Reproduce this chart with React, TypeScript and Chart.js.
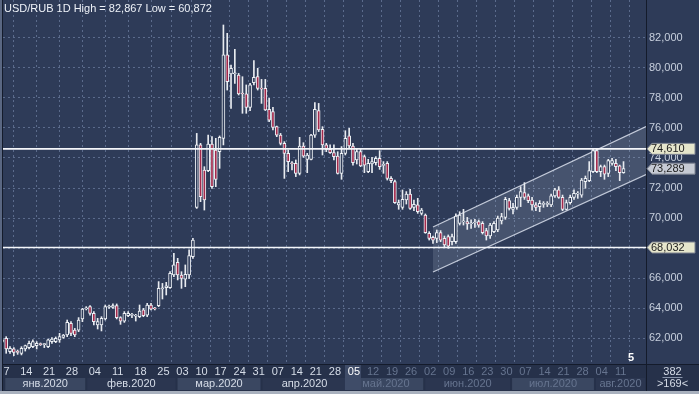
import React, { useEffect, useRef } from 'react';
import { Chart, registerables } from 'chart.js';

Chart.register(...registerables);

// ---- data (one value per candle slot) ----
const OPEN = [
  61.78, 61.98, 61.09, 61.27, 61.09, 60.98, 61.27, 61.36, 61.42, 61.49,
  61.60, 61.58, 61.42, 61.76, 61.76, 61.87, 62.04, 62.20, 62.98, 62.53,
  62.53, 63.27, 63.98, 64.09, 63.64, 62.87, 62.87, 63.27, 64.07, 64.04,
  64.16, 63.36, 63.13, 63.49, 63.53, 63.49, 63.42, 63.87, 63.53, 64.20,
  63.98, 64.16, 65.30, 65.36, 65.36, 66.20, 67.04, 66.20, 65.93, 66.20,
  67.42, 70.71, 74.87, 73.20, 73.16, 74.93, 74.53, 74.42, 75.31, 80.87,
  79.60, 79.64, 79.53, 78.31, 78.27, 77.38, 79.02, 79.42, 78.64, 78.64,
  77.24, 77.09, 76.09, 75.53, 74.98, 74.31, 73.66, 73.64, 72.98, 74.80,
  73.91, 73.91, 75.53, 77.16, 75.91, 74.87, 74.58, 74.36, 74.13, 72.98,
  74.31, 75.47, 74.80, 73.87, 74.42, 74.09, 73.09, 73.60, 73.69, 73.98,
  73.53, 73.64, 72.64, 72.42, 70.87, 70.71, 71.20, 71.60, 70.71, 70.87,
  70.31, 70.20, 68.98, 68.71, 68.64, 69.02, 68.64, 68.76, 68.42, 68.42,
  69.64, 69.76, 69.76, 69.64, 69.69, 69.76, 69.64, 69.16, 68.80, 69.09,
  69.20, 69.80, 70.04, 71.16, 70.58, 70.71, 71.38, 71.69, 71.47, 71.20,
  70.87, 70.76, 70.93, 70.93, 70.87, 71.47, 71.87, 71.38, 70.58, 71.02,
  71.38, 71.62, 71.53, 72.42, 72.49, 73.09, 74.49, 73.09, 73.42, 72.98,
  73.64, 73.64, 73.47, 73.02,
];
const HIGH = [
  61.95, 62.09, 61.42, 61.36, 61.20, 61.42, 61.53, 61.80, 61.87, 61.76,
  61.67, 61.64, 61.93, 62.02, 62.07, 62.31, 62.24, 63.20, 63.09, 62.64,
  63.36, 63.98, 64.09, 64.16, 63.76, 63.31, 63.42, 64.20, 64.20, 64.27,
  64.27, 63.42, 63.76, 63.76, 63.64, 63.58, 64.20, 63.98, 64.31, 64.31,
  64.04, 65.76, 65.64, 65.71, 66.42, 67.64, 67.31, 66.42, 66.87, 67.87,
  68.64, 75.64, 74.98, 73.42, 75.53, 75.42, 75.31, 75.47, 82.867, 82.31,
  80.20, 81.24, 79.64, 79.42, 78.87, 78.98, 80.49, 79.98, 79.24, 79.24,
  77.98, 77.38, 76.13, 75.64, 75.09, 74.53, 73.76, 73.87, 75.38, 75.02,
  74.31, 75.58, 77.69, 77.64, 76.09, 74.98, 74.87, 74.87, 74.42, 74.76,
  75.82, 75.98, 74.98, 74.58, 74.58, 74.20, 73.91, 74.04, 74.09, 74.49,
  73.76, 73.76, 72.76, 72.53, 71.20, 71.87, 71.76, 71.91, 71.20, 71.31,
  70.64, 70.27, 69.09, 68.80, 69.20, 69.16, 68.80, 68.87, 68.93, 70.27,
  70.42, 70.58, 70.04, 69.87, 69.91, 69.87, 69.76, 69.31, 69.64, 69.76,
  70.13, 70.31, 71.38, 71.31, 70.98, 71.53, 72.09, 72.36, 71.60, 71.38,
  71.02, 71.16, 71.09, 71.09, 71.60, 71.98, 72.09, 71.53, 71.20, 71.53,
  71.87, 71.76, 72.64, 72.80, 73.76, 74.58, 74.61, 73.53, 73.53, 73.91,
  73.98, 73.91, 73.53, 73.76,
];
const LOW = [
  61.70, 60.98, 60.98, 60.82, 60.91, 60.872, 61.13, 61.27, 61.36, 61.27,
  61.50, 61.36, 61.36, 61.64, 61.69, 61.71, 61.98, 62.09, 62.16, 62.09,
  62.42, 63.09, 63.87, 63.53, 62.87, 62.60, 62.47, 63.20, 63.98, 63.98,
  63.27, 62.91, 63.04, 63.42, 63.36, 63.13, 63.36, 63.42, 63.42, 63.87,
  63.87, 64.09, 64.60, 64.87, 65.31, 66.09, 65.87, 65.31, 65.42, 65.98,
  67.31, 70.64, 71.09, 70.53, 73.09, 71.98, 72.09, 73.31, 74.87, 78.53,
  77.31, 78.98, 78.20, 76.98, 76.98, 77.16, 78.87, 78.53, 77.64, 77.16,
  76.42, 75.87, 75.42, 74.87, 72.64, 73.09, 73.20, 72.76, 72.87, 74.04,
  73.02, 73.87, 75.38, 75.76, 74.20, 74.42, 74.31, 73.87, 72.93, 72.58,
  74.20, 74.64, 73.53, 73.60, 73.42, 73.02, 73.02, 73.02, 73.53, 73.24,
  72.98, 72.53, 72.36, 70.98, 70.58, 70.58, 70.93, 70.58, 70.49, 70.31,
  70.20, 68.98, 68.53, 68.31, 68.36, 68.42, 68.09, 67.98, 68.20, 68.31,
  69.53, 69.53, 69.24, 69.31, 69.38, 69.38, 68.93, 68.53, 68.64, 69.02,
  69.09, 69.60, 69.91, 70.53, 70.27, 70.58, 70.76, 71.24, 71.02, 70.53,
  70.49, 70.42, 70.71, 70.76, 70.76, 71.38, 71.31, 70.49, 70.53, 70.93,
  71.24, 71.31, 71.38, 71.98, 72.42, 73.02, 73.02, 72.76, 72.58, 72.76,
  73.53, 73.16, 72.49, 72.98,
];
const CLOSE = [
  61.87, 61.27, 61.31, 61.04, 61.07, 61.31, 61.49, 61.64, 61.76, 61.64,
  61.58, 61.60, 61.87, 61.93, 61.98, 62.09, 62.20, 63.04, 62.31, 62.20,
  63.20, 63.93, 63.98, 63.64, 63.09, 63.09, 63.31, 64.09, 64.10, 64.16,
  63.36, 63.13, 63.64, 63.64, 63.55, 63.50, 63.80, 63.49, 64.20, 63.93,
  63.96, 65.31, 65.33, 65.47, 66.31, 66.87, 66.20, 65.98, 66.24, 67.49,
  68.53, 74.87, 71.42, 71.20, 74.93, 72.09, 72.58, 75.38, 80.87, 79.09,
  79.98, 79.66, 78.27, 78.29, 77.38, 78.87, 79.38, 78.64, 78.62, 77.20,
  76.53, 76.04, 75.53, 74.98, 74.31, 73.76, 73.64, 72.98, 74.80, 74.13,
  74.20, 75.53, 77.24, 75.87, 74.87, 74.58, 74.36, 74.09, 72.98, 74.31,
  75.31, 74.80, 73.69, 74.42, 73.47, 73.53, 73.64, 73.76, 73.98, 73.42,
  73.55, 72.64, 72.49, 71.02, 71.02, 71.24, 71.60, 70.64, 70.91, 70.42,
  70.53, 69.02, 68.64, 68.53, 69.02, 68.53, 68.20, 68.13, 68.76, 70.13,
  70.20, 69.80, 69.60, 69.66, 69.71, 69.53, 69.02, 68.80, 69.53, 69.64,
  70.00, 70.09, 71.24, 70.64, 70.71, 71.38, 71.76, 71.38, 71.16, 70.87,
  70.71, 70.98, 70.95, 70.95, 71.47, 71.87, 71.38, 70.58, 71.02, 71.38,
  71.64, 71.64, 72.53, 72.64, 73.16, 74.49, 73.09, 73.42, 72.93, 73.82,
  73.82, 73.42, 73.02, 73.289,
];

// weekly ticks (slot index -> day label)
const WEEK_SLOTS = [0, 6, 12, 18, 24, 30, 36, 42, 47, 52, 57, 62, 67, 72, 77, 82, 87,
  92, 97, 102, 107, 112, 117, 122, 127, 132, 137, 142, 147, 152, 157, 162, 167];
const WEEK_LABELS = ['07', '14', '21', '28', '04', '11', '18', '25', '03', '10', '17', '24', '31',
  '07', '14', '21', '28', '05', '12', '19', '26', '02', '09', '16', '23', '30', '07', '14', '21',
  '28', '04', '11', ''];
const MONTH_LABELS = ['янв.2020', 'фев.2020', 'мар.2020', 'апр.2020', 'май.2020', 'июн.2020', 'июл.2020', 'авг.2020'];
const MONTH_START_SLOTS = [0.5, 22, 45.7, 68, 90.6, 110.7, 133.5, 155.5];
const CURRENT_SLOT = 92;

const Y_TICKS = [62, 64, 66, 68, 70, 72, 74, 76, 78, 80, 82];
const LEVELS = [74.61, 68.032];
const LAST_PRICE = 73.289;
const CHANNEL_SLOTS = [113, 168.9];
const CHANNEL_UPPER = [69.4, 76.1];
const CHANNEL_LOWER = [66.4, 72.9];

const TITLE = 'USD/RUB 1D High = 82,867 Low = 60,872';

const X_MIN = 0.16;
const X_MAX = 168.9;
const Y_MIN = 60.267;
const Y_MAX = 84.533;

// ---- styles ----
const PLOT_BG = '#2e3b58';
const BOTTOM_BG = '#26314a';
const BAND_LIGHT = '#3a4761';
const BAND_DARK = '#2b3650';
const GRID = '#5b6b8c';
const TEXT = '#d6dde8';
const TEXT_DIM = '#66748f';
const RED = '#a3294b';
const WHITE = '#eef1f5';
const FONT_FAMILY = '"Liberation Sans Narrow", "Liberation Sans", Arial, sans-serif';

const fmt = (v: number) => v.toFixed(3).replace('.', ',');

function drawTag(ctx: CanvasRenderingContext2D, x: number, y: number, text: string, fill: string) {
  const h = 11;
  ctx.save();
  ctx.beginPath();
  ctx.moveTo(x + 1, y);
  ctx.lineTo(x + 6, y - h / 2);
  ctx.lineTo(x + 49, y - h / 2);
  ctx.lineTo(x + 49, y + h / 2);
  ctx.lineTo(x + 6, y + h / 2);
  ctx.closePath();
  ctx.fillStyle = fill;
  ctx.fill();
  ctx.strokeStyle = '#7c8290';
  ctx.lineWidth = 1;
  ctx.stroke();
  ctx.fillStyle = '#1c1c1c';
  ctx.font = `11px ${FONT_FAMILY}`;
  ctx.textAlign = 'left';
  ctx.textBaseline = 'middle';
  ctx.fillText(text, x + 5, y + 0.5);
  ctx.restore();
}

const decorPlugin = {
  id: 'decor',
  beforeDraw(chart: any) {
    const { ctx, chartArea: a, width, height } = chart;
    ctx.save();
    ctx.fillStyle = PLOT_BG;
    ctx.fillRect(0, 0, width, height);
    // bottom axis strip
    ctx.fillStyle = BOTTOM_BG;
    ctx.fillRect(0, a.bottom, width, height - a.bottom);
    // month bands
    const xs = chart.scales.x;
    for (let i = 0; i < MONTH_START_SLOTS.length; i++) {
      const x0 = Math.max(a.left, xs.getPixelForValue(MONTH_START_SLOTS[i]));
      const x1 = i + 1 < MONTH_START_SLOTS.length ? xs.getPixelForValue(MONTH_START_SLOTS[i + 1]) : a.right;
      ctx.fillStyle = i % 2 === 0 ? BAND_LIGHT : BAND_DARK;
      ctx.fillRect(x0 + 1, a.bottom + 14, x1 - x0 - 2, 12);
    }
    // current slot highlight
    const cx = xs.getPixelForValue(CURRENT_SLOT);
    ctx.fillStyle = '#3f4c68';
    ctx.fillRect(cx - 8, a.bottom + 1, 16, 25);
    ctx.restore();
  },
  afterDraw(chart: any) {
    const { ctx, chartArea: a, width, height } = chart;
    const xs = chart.scales.x;
    const ys = chart.scales.y;
    ctx.save();
    // separators
    ctx.fillStyle = '#141b2b';
    ctx.fillRect(a.right, 0, 1, height);
    ctx.fillRect(0, a.bottom, width, 1);
    ctx.fillRect(2, 0, 1, height);
    ctx.fillStyle = '#5a6782';
    ctx.fillRect(0, 0, 2, height);
    ctx.fillStyle = '#a9b1be';
    ctx.fillRect(0, height - 3, width, 3);

    // day labels
    ctx.save();
    ctx.beginPath();
    ctx.rect(a.left, a.bottom, a.right - a.left, height - a.bottom);
    ctx.clip();
    ctx.font = `11px ${FONT_FAMILY}`;
    ctx.textAlign = 'center';
    ctx.textBaseline = 'middle';
    WEEK_SLOTS.forEach((s, i) => {
      if (!WEEK_LABELS[i]) return;
      const x = xs.getPixelForValue(s);
      ctx.fillStyle = s < CURRENT_SLOT ? TEXT : s === CURRENT_SLOT ? '#ffffff' : TEXT_DIM;
      ctx.fillText(WEEK_LABELS[i], x + 1, a.bottom + 8);
    });
    MONTH_LABELS.forEach((m, i) => {
      const x0 = Math.max(a.left, xs.getPixelForValue(MONTH_START_SLOTS[i]));
      const x1 = i + 1 < MONTH_START_SLOTS.length ? xs.getPixelForValue(MONTH_START_SLOTS[i + 1]) : a.right;
      ctx.fillStyle = MONTH_START_SLOTS[i] < CURRENT_SLOT - 3 ? TEXT : TEXT_DIM;
      ctx.fillText(m, (x0 + x1) / 2, a.bottom + 20);
    });
    ctx.restore();

    // right bottom panel
    ctx.font = `11px ${FONT_FAMILY}`;
    ctx.textAlign = 'center';
    ctx.textBaseline = 'middle';
    ctx.fillStyle = TEXT;
    const px = (a.right + width) / 2;
    ctx.fillText('382', px, a.bottom + 8);
    ctx.fillStyle = '#8a96ac';
    ctx.fillRect(px - 10, a.bottom + 13, 20, 1);
    ctx.fillStyle = TEXT;
    ctx.fillText('>169<', px, a.bottom + 20);

    // candle count marker
    ctx.font = `bold 11px ${FONT_FAMILY}`;
    ctx.fillStyle = '#ffffff';
    ctx.fillText('5', a.right - 15, a.bottom - 6);

    // title
    ctx.font = `11px ${FONT_FAMILY}`;
    ctx.textAlign = 'left';
    ctx.fillStyle = '#eef2f8';
    ctx.fillText(TITLE, a.left + 1, 9);

    // price tags
    drawTag(ctx, a.right, ys.getPixelForValue(LEVELS[0]), fmt(LEVELS[0]), '#e6e6cc');
    drawTag(ctx, a.right, ys.getPixelForValue(LAST_PRICE), fmt(LAST_PRICE), '#c6cad4');
    drawTag(ctx, a.right, ys.getPixelForValue(LEVELS[1]), fmt(LEVELS[1]), '#e6e6cc');
    ctx.restore();
  },
};

export default function App() {
  const ref = useRef<HTMLCanvasElement>(null);
  useEffect(() => {
    document.body.style.margin = '0';
    const canvas = ref.current!;
    const wicks = OPEN.map((_, i) => ({ x: i, y: [LOW[i], HIGH[i]] }));
    const bodies = OPEN.map((o, i) => {
      let lo = Math.min(o, CLOSE[i]);
      let hi = Math.max(o, CLOSE[i]);
      if (hi - lo < 0.07) {
        const m = (hi + lo) / 2;
        lo = m - 0.035;
        hi = m + 0.035;
      }
      return { x: i, y: [lo, hi] };
    });
    const bodyColors = OPEN.map((o, i) => (CLOSE[i] >= o ? PLOT_BG : RED));
    const hline = (v: number) => ({
      type: 'line',
      data: [{ x: X_MIN, y: v }, { x: X_MAX, y: v }],
      borderColor: '#f4f6fa',
      borderWidth: 1.6,
      pointRadius: 0,
      order: 0,
      clip: 0,
    });

    const chart = new Chart(canvas, {
      type: 'bar',
      data: {
        datasets: [
          {
            type: 'line',
            data: CHANNEL_SLOTS.map((s, i) => ({ x: s, y: CHANNEL_LOWER[i] })),
            borderColor: 'rgba(220,226,238,0.85)',
            borderWidth: 1.3,
            pointRadius: 0,
            order: 10,
            clip: 0,
          } as any,
          {
            type: 'line',
            data: CHANNEL_SLOTS.map((s, i) => ({ x: s, y: CHANNEL_UPPER[i] })),
            borderColor: 'rgba(220,226,238,0.85)',
            backgroundColor: 'rgba(190,200,222,0.17)',
            fill: '-1',
            borderWidth: 1.3,
            pointRadius: 0,
            order: 9,
            clip: 0,
          } as any,
          {
            type: 'bar',
            data: wicks,
            backgroundColor: '#e8ebf0',
            borderWidth: 0,
            barThickness: 1,
            grouped: false,
            order: 5,
            clip: 0,
          } as any,
          {
            type: 'bar',
            data: bodies,
            backgroundColor: bodyColors,
            borderColor: WHITE,
            borderWidth: 1,
            borderSkipped: false,
            barThickness: 3,
            grouped: false,
            order: 4,
            clip: 0,
          } as any,
          hline(LEVELS[0]) as any,
          hline(LEVELS[1]) as any,
        ],
      },
      options: {
        responsive: false,
        animation: false,
        devicePixelRatio: 1,
        events: [],
        layout: { padding: { left: 3, right: 0, top: 0, bottom: 30 } },
        plugins: { legend: { display: false }, tooltip: { enabled: false } },
        scales: {
          x: {
            type: 'linear',
            min: X_MIN,
            max: X_MAX,
            offset: false,
            ticks: { display: false },
            grid: { color: GRID, drawTicks: false, lineWidth: 1 },
            border: { display: false, dash: [2, 3] },
            afterBuildTicks: (s: any) => {
              s.ticks = WEEK_SLOTS.map((v) => ({ value: v }));
            },
            afterFit: (s: any) => {
              s.height = 0;
              s.paddingLeft = 0;
              s.paddingRight = 0;
            },
          },
          y: {
            type: 'linear',
            position: 'right',
            min: Y_MIN,
            max: Y_MAX,
            ticks: {
              color: '#c8d0de',
              font: { family: FONT_FAMILY, size: 11 },
              padding: 3,
              callback: (v: any) => fmt(Number(v)),
            },
            grid: { color: GRID, drawTicks: false, lineWidth: 1 },
            border: { display: false, dash: [2, 3] },
            afterBuildTicks: (s: any) => {
              s.ticks = Y_TICKS.map((v) => ({ value: v }));
            },
            afterFit: (s: any) => {
              s.width = 53;
              s.paddingTop = 0;
              s.paddingBottom = 0;
            },
          },
        },
      } as any,
      plugins: [decorPlugin],
    });
    return () => chart.destroy();
  }, []);
  return <canvas ref={ref} width={699} height={394} style={{ display: 'block' }} />;
}
